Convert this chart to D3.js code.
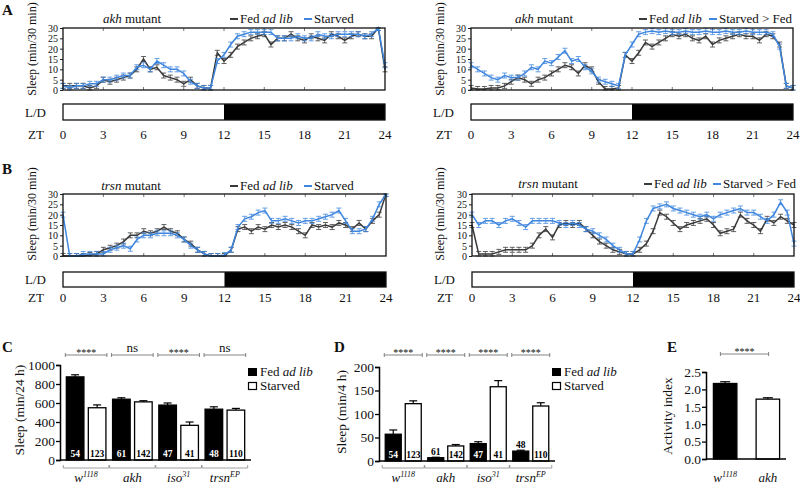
<!DOCTYPE html>
<html><head><meta charset="utf-8">
<script src="https://cdn.jsdelivr.net/npm/d3@7"></script>
<style>
body{margin:0;background:#fff}
svg{display:block;font-family:'Liberation Serif','DejaVu Serif',serif}
svg text{font-family:'Liberation Serif','DejaVu Serif',serif;fill:#111}
</style>
</head><body>
<svg id="fig" width="800" height="485"></svg>
<script>
// ---------------- DATA ----------------
const hours = [0,0.5,1,1.5,2,2.5,3,3.5,4,4.5,5,5.5,6,6.5,7,7.5,8,8.5,9,9.5,10,10.5,11,11.5,12,12.5,13,13.5,14,14.5,15,15.5,16,16.5,17,17.5,18,18.5,19,19.5,20,20.5,21,21.5,22,22.5,23,23.5,24];
const ztTicks = [0,3,6,9,12,15,18,21,24];
const sleepTicks = [0,5,10,15,20,25,30];

// A left: akh mutant, Fed ad lib vs Starved
const akhFed = [2,2,2,2,1,2,5,4,5,6,7,10,15,10,11,7,6,5,3,5,2,1,1,18,14,17,21,23,25,26,27,22,25,25,27,25,24,26,25,24,27,26,24,26,27,26,26,30,10];
const akhStarved = [2,1,2,2,3,3,5,5,6,7,7,11,12,10,14,12,10,10,8,4,2,1,1,14,17,22,26,27,28,28,28,28,25,25,25,26,25,25,27,26,26,27,27,27,27,26,27,30,12];
// A right: akh mutant, Fed ad lib vs Starved > Fed
const akhFed2 = [1,0.5,0.5,1,1,2,4,6,5,3,5,6,8,10,12,11,8,12,10,4,0.5,0.5,1,17,14,18,23,21,23,25,27,26,27,25,24,26,22,24,25,26,27,26,26,24,27,26,22,2,1];
const akhStarvedFed = [12,10,8,6,5,7,6,6,8,11,10,14,13,16,19,14,15,11,9,5,4,3,2,17,22,27,28,28.5,28,28.5,28,28,28.5,28,28,28.5,28,28,28.5,28,28,28.5,28,28,28,27,21,2,1];
// B left: trsn mutant, Fed ad lib vs Starved
const trsnFed = [0,0,0,0,0.5,1,3,4,5,7,10,10,12,11,12,14,12,11,8,6,3,1,0,0,0,3,13,14,12,14,13,15,14,15,14,12,10,15,14,15,14,16,15,13,16,13,17,20,30];
const trsnStarved = [20,0,0,1,1,1,1,3,4,5,3.5,8,10,10,11,11,11,10,8,5,3,1,0,0,0.5,3,14,18,19,21,22,17,17,18,17,16,17,17,18,19,20,22,17,12,12,13,18,25,30];
// B right: trsn mutant, Fed ad lib vs Starved > Fed
const trsnFed2 = [15,1,1,1,2,3,3,3,3,5,10,13,9,15,16,15,16,13,10,7,5,3,2,1,1,3,6,12,21,19,16,13,15,16,17,18,15,11,12,13,20,17,15,12,18,16,19,17,15];
const trsnStarvedFed = [20,15,17,17,15,17,18,16,14,17,17,17,17,16,15,16,15,13,12,10,8,5,3,1,1,8,17,23,24,25,23,22,21,20,19,20,18,20,21,22,23,21,21,19,17,20,26,21,6];
const tsSem = 1.2;

// C, D: bar charts
const genoBase = ["w","akh","iso","trsn"];
const genoSup  = ["1118","","31","EP"];
const nFed      = [54,61,47,48];
const nStarved  = [123,142,41,110];
const sleep24Fed        = [875,640,578,535];
const sleep24FedErr     = [22,15,22,25];
const sleep24Starved    = [550,612,365,525];
const sleep24StarvedErr = [30,12,35,18];
const sigC = ["****","ns","****","ns"];
const ticksC = [0,200,400,600,800,1000];

const sleep4Fed        = [57,7,37,21];
const sleep4FedErr     = [9,1,4,2];
const sleep4Starved    = [122,32,158,117];
const sleep4StarvedErr = [6,3,13,7];
const sigD = ["****","****","****","****"];
const ticksD = [0,50,100,150,200];

// E
const activityBase = ["w","akh"];
const activitySup  = ["1118",""];
const activity     = [2.17,1.72];
const activityErr  = [0.05,0.04];
const ticksE = [0,0.5,1.0,1.5,2.0,2.5];

// ---------------- DRAW ----------------
const SERIF = "'Liberation Serif','DejaVu Serif',serif";
const svg = d3.select("#fig");
const BLACK = "#3a3a3a", BLUE = "#3f86de";

function panelLetter(t,x,y){
  svg.append("text").attr("x",x).attr("y",y).attr("font-size",15).attr("font-weight","bold").text(t);
}

function tsPanel(cfg){
  const g = svg.append("g");
  const x = d3.scaleLinear().domain([0,24]).range([cfg.x0,cfg.x1]);
  const y = d3.scaleLinear().domain([0,30]).range([cfg.yb,cfg.yt]);
  const ya = g.append("g").attr("transform",`translate(${cfg.x0},0)`)
    .call(d3.axisLeft(y).tickValues(sleepTicks).tickSize(3).tickPadding(2));
  ya.select(".domain").remove();
  ya.attr("font-family",null);
  ya.selectAll("text").attr("font-size",10).attr("dy","0.34em");
  ya.selectAll("line").attr("stroke","#222");
  ztTicks.slice(1,-1).forEach(t=>{
    g.append("line").attr("x1",x(t)).attr("x2",x(t)).attr("y1",cfg.yt).attr("y2",cfg.yt+3).attr("stroke","#555").attr("stroke-width",0.8);
    g.append("line").attr("x1",x(t)).attr("x2",x(t)).attr("y1",cfg.yb).attr("y2",cfg.yb-3).attr("stroke","#555").attr("stroke-width",0.8);
  });
  const line = d3.line().x((d,i)=>x(hours[i])).y(d=>y(Math.min(30,d)));
  [[cfg.s1,BLACK],[cfg.s2,BLUE]].forEach(([s,c])=>{
    const eb = g.append("g");
    s.forEach((v,i)=>{
      const cx = x(hours[i]);
      const hi = y(Math.min(30,v+tsSem)), lo = y(Math.max(0,v-tsSem));
      eb.append("line").attr("x1",cx).attr("x2",cx).attr("y1",hi).attr("y2",lo).attr("stroke",c).attr("stroke-width",0.7);
      eb.append("line").attr("x1",cx-2.5).attr("x2",cx+2.5).attr("y1",hi).attr("y2",hi).attr("stroke",c).attr("stroke-width",0.8);
      eb.append("line").attr("x1",cx-2.5).attr("x2",cx+2.5).attr("y1",lo).attr("y2",lo).attr("stroke",c).attr("stroke-width",0.8);
    });
    g.append("path").datum(s).attr("d",line).attr("fill","none").attr("stroke",c).attr("stroke-width",1.5);
  });
  g.append("rect").attr("x",cfg.x0).attr("y",cfg.yt).attr("width",cfg.x1-cfg.x0).attr("height",cfg.yb-cfg.yt)
    .attr("fill","none").attr("stroke","#111").attr("stroke-width",1.3);
  g.append("text").attr("transform",`translate(${cfg.ytX},${cfg.ytY}) rotate(-90)`).attr("text-anchor","middle")
    .attr("font-size",12).text("Sleep (min/30 min)");
  const tt = g.append("text").attr("x",cfg.titleX).attr("y",cfg.titleY).attr("font-size",13).attr("text-anchor","middle");
  tt.append("tspan").attr("font-style","italic").text(cfg.gene);
  tt.append("tspan").text(" mutant");
  g.append("line").attr("x1",cfg.leg1).attr("x2",cfg.leg1+8).attr("y1",cfg.titleY-4).attr("y2",cfg.titleY-4).attr("stroke",BLACK).attr("stroke-width",2);
  const l1 = g.append("text").attr("x",cfg.leg1+10).attr("y",cfg.titleY).attr("font-size",13);
  l1.append("tspan").text("Fed ");
  l1.append("tspan").attr("font-style","italic").text("ad lib");
  g.append("line").attr("x1",cfg.leg2).attr("x2",cfg.leg2+8).attr("y1",cfg.titleY-4).attr("y2",cfg.titleY-4).attr("stroke",BLUE).attr("stroke-width",2);
  g.append("text").attr("x",cfg.leg2+10).attr("y",cfg.titleY).attr("font-size",13).text(cfg.leg2Text);
  g.append("rect").attr("x",x(0)).attr("y",cfg.ldT).attr("width",x(12)-x(0)).attr("height",cfg.ldB-cfg.ldT).attr("fill","#fff");
  g.append("rect").attr("x",x(12)).attr("y",cfg.ldT).attr("width",x(24)-x(12)).attr("height",cfg.ldB-cfg.ldT).attr("fill","#000");
  g.append("rect").attr("x",x(0)).attr("y",cfg.ldT).attr("width",x(24)-x(0)).attr("height",cfg.ldB-cfg.ldT)
    .attr("fill","none").attr("stroke","#111").attr("stroke-width",1.3);
  g.append("text").attr("x",cfg.x0-17).attr("y",(cfg.ldT+cfg.ldB)/2+4.5).attr("text-anchor","end").attr("font-size",13).text("L/D");
  g.append("text").attr("x",cfg.x0-19).attr("y",cfg.ztY).attr("text-anchor","end").attr("font-size",13).text("ZT");
  ztTicks.forEach(t=>{
    g.append("text").attr("x",x(t)).attr("y",cfg.ztY).attr("text-anchor","middle").attr("font-size",13).text(t);
  });
}

panelLetter("A",2,15);
tsPanel({x0:63,x1:385,yt:28,yb:90,s1:akhFed,s2:akhStarved,gene:"akh",titleX:132,titleY:23,leg1:230,leg2:304,leg2Text:"Starved",
  ytX:36,ytY:49,ldT:104,ldB:120,ztY:139});
tsPanel({x0:471,x1:793,yt:28,yb:90,s1:akhFed2,s2:akhStarvedFed,gene:"akh",titleX:544,titleY:23,leg1:639,leg2:709,leg2Text:"Starved > Fed",
  ytX:444,ytY:49,ldT:104,ldB:120,ztY:139});
panelLetter("B",2,174);
tsPanel({x0:63,x1:386,yt:194,yb:256,s1:trsnFed,s2:trsnStarved,gene:"trsn",titleX:131,titleY:190,leg1:230,leg2:304,leg2Text:"Starved",
  ytX:36,ytY:214,ldT:272,ldB:287,ztY:302});
tsPanel({x0:472,x1:794,yt:194,yb:256,s1:trsnFed2,s2:trsnStarvedFed,gene:"trsn",titleX:548,titleY:188,leg1:644,leg2:713,leg2Text:"Starved > Fed",
  ytX:444,ytY:214,ldT:272,ldB:287,ztY:302});

function genoLabel(g,x,y,base,sup,size){
  const t = g.append("text").attr("x",x).attr("y",y).attr("text-anchor","middle").attr("font-size",size).attr("font-style","italic");
  t.append("tspan").text(base);
  if(sup) t.append("tspan").attr("font-size",size*0.62).attr("dy",-5).text(sup);
}
function sigBar(g,x1,x2,yl,label){
  g.append("line").attr("x1",x1).attr("x2",x2).attr("y1",yl).attr("y2",yl).attr("stroke","#666").attr("stroke-width",0.8);
  [x1,x2].forEach(xx=>g.append("line").attr("x1",xx).attr("x2",xx).attr("y1",yl-2).attr("y2",yl+2).attr("stroke","#666").attr("stroke-width",0.8));
  const ast = label.startsWith("*");
  g.append("text").attr("x",(x1+x2)/2).attr("y",ast?yl+1:yl-3).attr("text-anchor","middle")
    .attr("font-size",ast?10:13).text(label);
}
function legend(g,x,y){
  g.append("rect").attr("x",x).attr("y",y).attr("width",9).attr("height",8).attr("fill","#000");
  const t = g.append("text").attr("x",x+12).attr("y",y+8).attr("font-size",13);
  t.append("tspan").text("Fed ");
  t.append("tspan").attr("font-style","italic").text("ad lib");
  g.append("rect").attr("x",x+0.5).attr("y",y+14.5).attr("width",8).attr("height",7).attr("fill","#fff").attr("stroke","#000").attr("stroke-width",1.2);
  g.append("text").attr("x",x+12).attr("y",y+22).attr("font-size",13).text("Starved");
}

function barPanel(cfg){
  const g = svg.append("g");
  const y = d3.scaleLinear().domain(cfg.domain).range([cfg.yb,cfg.yt]);
  const x0 = d3.scaleBand().domain(genoBase).range([cfg.xa+3,cfg.xe]);
  const half = cfg.half;
  const x1 = d3.scaleBand().domain(["fed","starved"]).range([x0.bandwidth()/2-half,x0.bandwidth()/2+half]).paddingInner(0.2).paddingOuter(0.1);
  genoBase.forEach((gname,i)=>{
    const gx = x0(gname);
    [["fed",cfg.fed[i],cfg.fedErr[i],cfg.nF[i]],["starved",cfg.st[i],cfg.stErr[i],cfg.nS[i]]].forEach(([k,v,e,n])=>{
      const bx = gx + x1(k), bw = x1.bandwidth();
      const cx = bx+bw/2;
      g.append("line").attr("x1",cx).attr("x2",cx).attr("y1",y(v)).attr("y2",y(v+e)).attr("stroke","#000").attr("stroke-width",1.2);
      g.append("line").attr("x1",cx-4).attr("x2",cx+4).attr("y1",y(v+e)).attr("y2",y(v+e)).attr("stroke","#000").attr("stroke-width",1.2);
      g.append("rect").attr("x",bx).attr("y",y(v)).attr("width",bw).attr("height",y(0)-y(v))
        .attr("fill",k==="fed"?"#000":"#fff").attr("stroke","#000").attr("stroke-width",1.3);
      const inside = (y(0)-y(v))>12;
      g.append("text").attr("x",cx).attr("y",inside?y(0)-3:y(v)-3).attr("text-anchor","middle").attr("font-size",9.5).attr("font-weight","bold")
        .style("fill",(k==="fed"&&inside)?"#fff":"#000").text(n);
    });
    const l = gx + x1("fed") - 3, r = gx + x1("starved") + x1.bandwidth() + 3;
    sigBar(g,l+2,r-2,355,cfg.sig[i]);
    g.append("line").attr("x1",l).attr("x2",r).attr("y1",468).attr("y2",468).attr("stroke","#888").attr("stroke-width",0.8);
    [l,r].forEach(xx=>g.append("line").attr("x1",xx).attr("x2",xx).attr("y1",465).attr("y2",468).attr("stroke","#888").attr("stroke-width",0.8));
    genoLabel(g,(l+r)/2,482,gname,genoSup[i],13);
  });
  const ya = g.append("g").attr("transform",`translate(${cfg.xa},0)`)
    .call(d3.axisLeft(y).tickValues(cfg.ticks).tickSize(4).tickPadding(1).tickFormat(cfg.fmt||(d=>d)));
  ya.attr("font-family",null);
  ya.select(".domain").attr("stroke-width",1.5);
  ya.selectAll("line").attr("stroke-width",1.3);
  ya.selectAll("text").attr("font-size",13.5);
  g.append("line").attr("x1",cfg.xa).attr("x2",cfg.xe+3).attr("y1",y(0)).attr("y2",y(0)).attr("stroke","#000").attr("stroke-width",1.5);
  g.append("text").attr("transform",`translate(${cfg.tX},${cfg.tY}) rotate(-90)`).attr("text-anchor","middle").attr("font-size",13.5).text(cfg.title);
  legend(g,cfg.legX,368);
}

panelLetter("C",2,352);
barPanel({xa:60,xe:248,yt:365,yb:460,domain:[0,1000],ticks:ticksC,half:22,
  fed:sleep24Fed,fedErr:sleep24FedErr,st:sleep24Starved,stErr:sleep24StarvedErr,nF:nFed,nS:nStarved,sig:sigC,
  title:"Sleep (min/24 h)",tX:24,tY:410,legX:248});
panelLetter("D",334,352);
barPanel({xa:379,xe:552,yt:367,yb:461,domain:[0,200],ticks:ticksD,half:20,
  fed:sleep4Fed,fedErr:sleep4FedErr,st:sleep4Starved,stErr:sleep4StarvedErr,nF:nFed,nS:nStarved,sig:sigD,
  title:"Sleep (min/4 h)",tX:346,tY:412,legX:552});

panelLetter("E",667,352);
(function(){
  const g = svg.append("g");
  const y = d3.scaleLinear().domain([0,2.5]).range([459,372]);
  const x = d3.scaleBand().domain(activityBase).range([707,786]).paddingInner(0.45).paddingOuter(0.15);
  activityBase.forEach((k,i)=>{
    const bx = x(k), bw = x.bandwidth(), cx = bx+bw/2;
    const v = activity[i], e = activityErr[i];
    g.append("line").attr("x1",cx).attr("x2",cx).attr("y1",y(v)).attr("y2",y(v+e)).attr("stroke","#000").attr("stroke-width",1.2);
    g.append("line").attr("x1",cx-5).attr("x2",cx+5).attr("y1",y(v+e)).attr("y2",y(v+e)).attr("stroke","#000").attr("stroke-width",1.2);
    g.append("rect").attr("x",bx).attr("y",y(v)).attr("width",bw).attr("height",y(0)-y(v))
      .attr("fill",i===0?"#000":"#fff").attr("stroke","#000").attr("stroke-width",1.3);
    genoLabel(g,cx,482,k,activitySup[i],13);
  });
  sigBar(g,x(activityBase[0])+7,x(activityBase[1])+x.bandwidth()-11,354,"****");
  const ya = g.append("g").attr("transform","translate(706,0)")
    .call(d3.axisLeft(y).tickValues(ticksE).tickSize(4).tickPadding(1).tickFormat(d3.format(".1f")));
  ya.attr("font-family",null);
  ya.select(".domain").attr("stroke-width",1.5);
  ya.selectAll("line").attr("stroke-width",1.3);
  ya.selectAll("text").attr("font-size",13.5);
  g.append("line").attr("x1",706).attr("x2",786).attr("y1",y(0)).attr("y2",y(0)).attr("stroke","#000").attr("stroke-width",1.5);
  g.append("text").attr("transform","translate(672,416) rotate(-90)").attr("text-anchor","middle").attr("font-size",13.5).text("Activity index");
})();
svg.selectAll("text").style("font-family",SERIF);
</script>
</body></html>
